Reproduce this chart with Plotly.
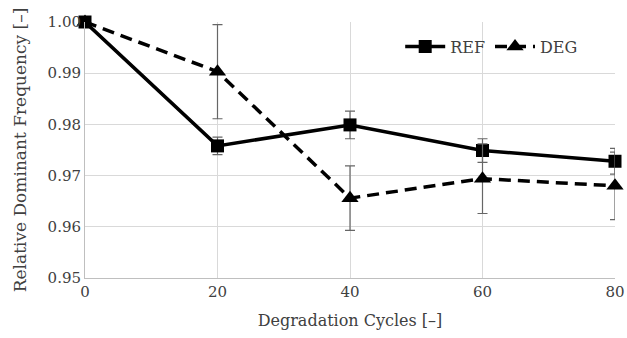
import plotly.graph_objects as go

cycles = [0, 20, 40, 60, 80]
ref_vals = [1.000, 0.9758, 0.9799, 0.9749, 0.9728]
ref_err = [0.0, 0.0017, 0.0027, 0.0023, 0.0025]
deg_vals = [1.000, 0.9903, 0.9656, 0.9694, 0.9680]
deg_err = [0.0, 0.0092, 0.0063, 0.0068, 0.0066]
y_ticks = [0.95, 0.96, 0.97, 0.98, 0.99, 1.00]

font = "DejaVu Serif"

fig = go.Figure()
fig.add_trace(go.Scatter(
    x=cycles, y=ref_vals, name="REF", mode="lines+markers",
    line=dict(color="black", width=3.5),
    marker=dict(symbol="square", size=13, color="black"),
    error_y=dict(type="data", array=ref_err, color="#666666", thickness=1.2, width=5),
    cliponaxis=False,
))
fig.add_trace(go.Scatter(
    x=cycles, y=deg_vals, name="DEG", mode="lines+markers",
    line=dict(color="black", width=3.5, dash="12px,7px"),
    marker=dict(symbol="triangle-up", size=15, color="black"),
    error_y=dict(type="data", array=deg_err, color="#666666", thickness=1.2, width=5),
    cliponaxis=False,
))

fig.update_layout(
    width=627, height=338,
    margin=dict(l=85, r=12, t=22, b=60, autoexpand=False),
    paper_bgcolor="white", plot_bgcolor="white",
    font=dict(family=font, size=15, color="#404040"),
    showlegend=True,
    legend=dict(orientation="h", x=0.94, y=0.97, xanchor="right", yanchor="top",
                font=dict(family=font, size=16, color="#404040"),
                bgcolor="rgba(255,255,255,0)", itemwidth=40),
    xaxis=dict(
        range=[0, 80], tickvals=cycles, ticktext=[str(c) for c in cycles],
        showgrid=True, gridcolor="#d9d9d9", gridwidth=1,
        showline=True, linecolor="#bfbfbf", linewidth=1,
        zeroline=False, ticks="", ticklen=0, automargin=False,
        title=dict(text="Degradation Cycles [\u2013]", font=dict(family=font, size=16, color="#404040"), standoff=14),
        tickfont=dict(family=font, size=15, color="#404040"),
    ),
    yaxis=dict(
        range=[0.95, 1.00], tickvals=y_ticks, ticktext=[f"{v:.2f}" for v in y_ticks],
        showgrid=True, gridcolor="#d9d9d9", gridwidth=1,
        showline=True, linecolor="#bfbfbf", linewidth=1,
        zeroline=False, ticks="", ticklen=0, automargin=False,
        title=dict(text="Relative Dominant Frequency [\u2013]", font=dict(family=font, size=17, color="#404040"), standoff=16),
        tickfont=dict(family=font, size=15, color="#404040"),
    ),
)

fig.write_html("out.html")
